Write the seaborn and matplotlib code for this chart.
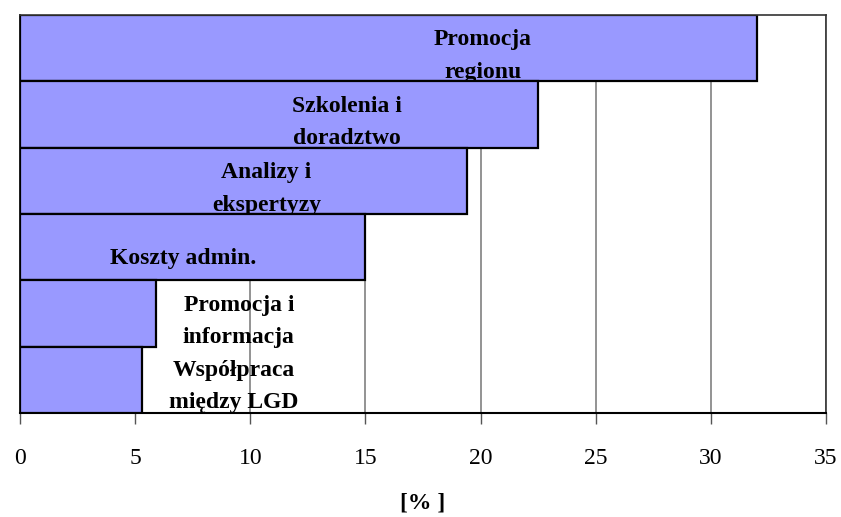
import matplotlib
matplotlib.use("Agg")
import matplotlib.pyplot as plt
import seaborn as sns
import pandas as pd

categories = ["Promocja\nregionu", "Szkolenia i\ndoradztwo", "Analizy i\nekspertyzy",
              "Koszty admin.", "Promocja i\ninformacja", "Współpraca\nmiędzy LGD"]
values = [32.0, 22.5, 19.4, 15.0, 5.9, 5.3]
x_ticks = [0, 5, 10, 15, 20, 25, 30, 35]
x_label = "[% ]"

# label placement (x centre in data units, y offset in bar units)
label_x = [20.1, 14.2, 10.7, 7.1, 9.5, 9.3]
label_dy = [0.12, 0.12, 0.12, 0.17, 0.12, 0.1]

sns.set_theme(style="white")
plt.rcParams['font.family'] = ['Liberation Serif', 'DejaVu Serif']
plt.rcParams['text.color'] = 'black'
plt.rcParams['xtick.color'] = 'black'
plt.rcParams['axes.labelcolor'] = 'black'

df = pd.DataFrame({"cat": categories, "val": values})

fig = plt.figure(figsize=(8.41, 5.17), dpi=100)
ax = fig.add_axes([20/841, 1-413/517, (826-20)/841, (413-15)/517])

sns.barplot(data=df, y="cat", x="val", orient="h", order=categories, width=1.0,
            color="#9999FF", saturation=1, edgecolor="black", linewidth=1.6, ax=ax)

# zorder so each label is drawn above its own bar but below the next bar
for i, p in enumerate(ax.patches):
    p.set_zorder(2 + i)
for i, (cat, lx, dy) in enumerate(zip(categories, label_x, label_dy)):
    ax.text(lx, i + dy, cat, ha="center", va="center", fontsize=17, fontweight="bold",
            linespacing=1.72, zorder=2.5 + i, color="black")

ax.set_xlim(0, 35)
ax.set_ylim(len(categories) - 0.5, -0.5)
ax.set_xticks(x_ticks)
ax.set_xticklabels([str(t) for t in x_ticks], fontsize=17, color="black")
ax.set_yticks([])
ax.set_ylabel("")
ax.set_xlabel(x_label, fontsize=17, fontweight="bold", labelpad=17, color="black")
ax.xaxis.grid(True, color="#808080", linewidth=1.2, zorder=1)
ax.set_axisbelow(True)
ax.tick_params(axis="x", direction="out", length=8, width=1, color="#555555", pad=17,
               bottom=True, labelcolor="black")
for s in ["top", "right"]:
    ax.spines[s].set_color("#333333")
    ax.spines[s].set_linewidth(1.2)
ax.spines["bottom"].set_color("black")
ax.spines["bottom"].set_linewidth(1.5)
ax.spines["left"].set_color("black")

fig.savefig("out.png", dpi=100)
